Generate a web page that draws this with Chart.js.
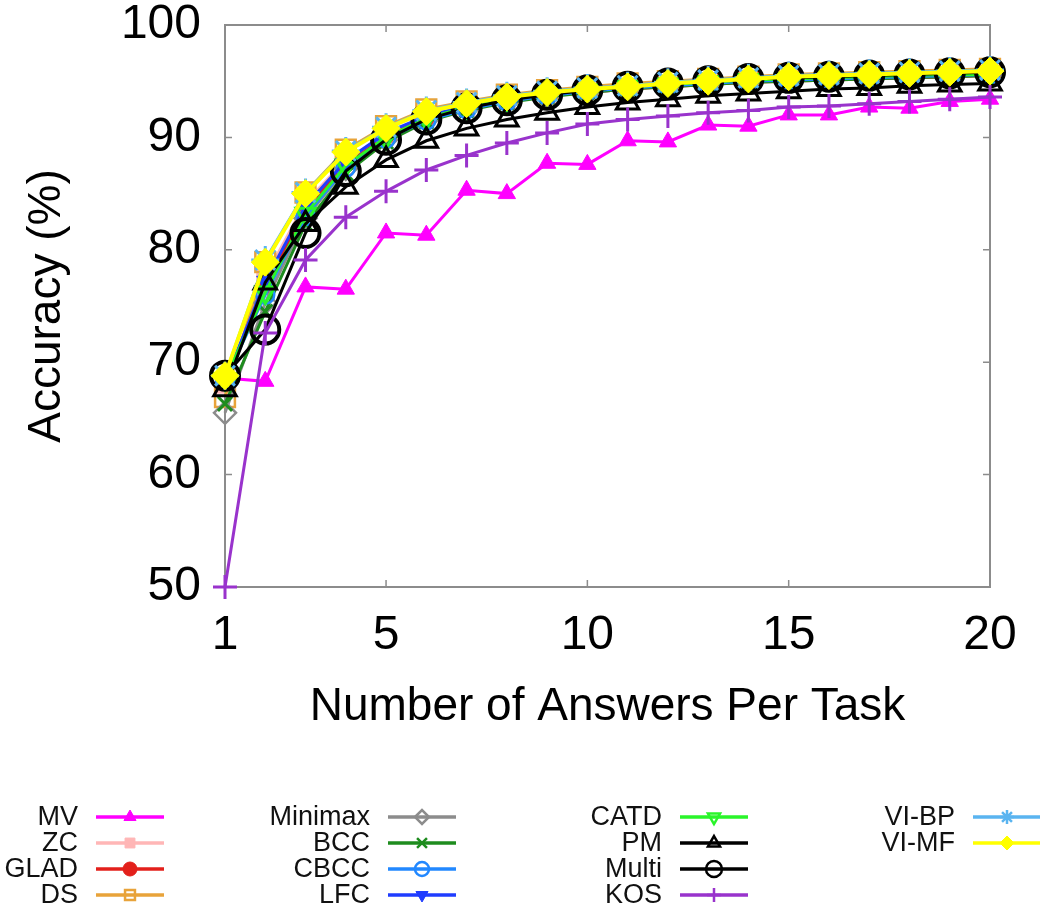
<!DOCTYPE html>
<html>
<head>
<meta charset="utf-8">
<script src="https://cdn.jsdelivr.net/npm/chart.js@4.4.1/dist/chart.umd.min.js"></script>
<style>
  body { margin: 0; background: #fff; }
  #wrap { width: 1040px; height: 908px; }
</style>
</head>
<body>
<div id="wrap"><canvas id="acc-chart"></canvas></div>
<script>
// answers per task (x) and tick values
const answers = [1, 2, 3, 4, 5, 6, 7, 8, 9, 10, 11, 12, 13, 14, 15, 16, 17, 18, 19, 20];
const xTicks = [1, 5, 10, 15, 20];
const yTicks = [50, 60, 70, 80, 90, 100];

const methods = ['MV', 'ZC', 'GLAD', 'DS', 'Minimax', 'BCC', 'CBCC', 'LFC',
                 'CATD', 'PM', 'Multi', 'KOS', 'VI-BP', 'VI-MF'];

// accuracy (%)
const mv      = [68.6, 68.3, 76.7, 76.5, 81.5, 81.3, 85.3, 85.0, 87.7, 87.6, 89.7, 89.6, 91.1, 91.0, 92.0, 92.0, 92.7, 92.6, 93.2, 93.4];
const zc      = [68.0, 77.6, 84.2, 88.0, 90.3, 91.8, 92.7, 93.3, 93.7, 94.1, 94.4, 94.6, 94.8, 95.0, 95.1, 95.2, 95.3, 95.4, 95.5, 95.6];
const glad    = [68.2, 76.8, 83.6, 87.6, 90.1, 91.7, 92.6, 93.2, 93.7, 94.0, 94.3, 94.5, 94.7, 94.9, 95.0, 95.1, 95.2, 95.3, 95.4, 95.5];
const ds      = [66.9, 78.9, 85.1, 88.9, 91.0, 92.5, 93.2, 93.8, 94.2, 94.5, 94.8, 95.0, 95.2, 95.4, 95.6, 95.7, 95.8, 95.9, 96.0, 96.1];
const minimax = [65.5, 75.3, 82.8, 87.2, 89.8, 91.5, 92.5, 93.2, 93.7, 94.0, 94.3, 94.6, 94.8, 95.0, 95.1, 95.2, 95.3, 95.4, 95.5, 95.6];
const bcc     = [66.3, 74.5, 82.3, 86.8, 89.6, 91.4, 92.4, 93.1, 93.6, 94.0, 94.3, 94.5, 94.7, 94.9, 95.0, 95.1, 95.2, 95.3, 95.4, 95.5];
const cbcc    = [68.4, 76.0, 83.0, 87.3, 89.9, 91.5, 92.5, 93.2, 93.7, 94.1, 94.4, 94.6, 94.8, 95.0, 95.1, 95.2, 95.3, 95.4, 95.5, 95.6];
const lfc     = [68.3, 77.2, 83.9, 87.9, 90.4, 91.9, 92.8, 93.4, 93.9, 94.2, 94.5, 94.7, 94.9, 95.1, 95.2, 95.3, 95.4, 95.5, 95.6, 95.7];
const catd    = [68.5, 76.2, 83.2, 87.5, 90.0, 91.7, 92.7, 93.4, 93.9, 94.2, 94.5, 94.7, 94.9, 95.1, 95.2, 95.3, 95.4, 95.5, 95.6, 95.6];
const pm      = [67.6, 77.1, 82.3, 85.6, 88.0, 89.7, 90.8, 91.6, 92.2, 92.7, 93.1, 93.4, 93.7, 93.9, 94.1, 94.3, 94.4, 94.6, 94.7, 94.8];
const multi   = [68.8, 72.9, 81.5, 87.0, 89.8, 91.6, 92.6, 93.3, 93.8, 94.2, 94.5, 94.8, 95.0, 95.2, 95.3, 95.4, 95.5, 95.6, 95.7, 95.8];
const kos     = [50.0, 72.6, 79.1, 82.9, 85.2, 87.1, 88.4, 89.5, 90.4, 91.2, 91.6, 91.9, 92.2, 92.4, 92.7, 92.8, 93.0, 93.2, 93.4, 93.6];
const viBp    = [68.8, 79.1, 85.1, 88.8, 90.9, 92.4, 93.1, 93.7, 94.1, 94.4, 94.6, 94.9, 95.1, 95.3, 95.5, 95.6, 95.7, 95.8, 95.9, 96.0];
const viMf    = [68.8, 78.9, 85.0, 88.7, 90.8, 92.3, 93.0, 93.6, 94.0, 94.3, 94.5, 94.8, 95.0, 95.2, 95.4, 95.5, 95.6, 95.7, 95.8, 95.9];

const series = [mv, zc, glad, ds, minimax, bcc, cbcc, lfc, catd, pm, multi, kos, viBp, viMf];

// look of each method: line colour, marker, marker size
const looks = [
  { color: '#ff00ff', shape: 'triangle', rot: 0,   r: 10, fill: '#ff00ff',     bw: 1 },
  { color: '#ffb6b6', shape: 'rect',     rot: 0,   r: 12, fill: '#ffb6b6',     bw: 1 },
  { color: '#e3201b', shape: 'circle',   rot: 0,   r: 8,  fill: '#e3201b',     bw: 1 },
  { color: '#e8a33a', shape: 'rect',     rot: 0,   r: 14, fill: 'transparent', bw: 2.5 },
  { color: '#8c8c8c', shape: 'rectRot',  rot: 0,   r: 11, fill: 'transparent', bw: 2.5 },
  { color: '#1e8c1e', shape: 'crossRot', rot: 0,   r: 10, fill: 'transparent', bw: 3 },
  { color: '#2288ff', shape: 'circle',   rot: 0,   r: 9,  fill: 'transparent', bw: 2.5 },
  { color: '#1f3cff', shape: 'triangle', rot: 180, r: 10, fill: '#1f3cff',     bw: 1 },
  { color: '#2af52a', shape: 'triangle', rot: 180, r: 11, fill: 'transparent', bw: 3 },
  { color: '#000000', shape: 'triangle', rot: 0,   r: 13, fill: 'transparent', bw: 3 },
  { color: '#000000', shape: 'circle',   rot: 0,   r: 14, fill: 'transparent', bw: 4 },
  { color: '#9933cc', shape: 'cross',    rot: 0,   r: 12, fill: 'transparent', bw: 3 },
  { color: '#5ab4f0', shape: 'star',     rot: 0,   r: 14, fill: 'transparent', bw: 3 },
  { color: '#ffff00', shape: 'rectRot',  rot: 0,   r: 14, fill: '#ffff00',     bw: 1 }
];

const FONT = '"Liberation Sans", Arial, Helvetica, sans-serif';

const datasets = methods.map(function (name, i) {
  const lk = looks[i];
  return {
    label: name,
    data: answers.map((a, j) => ({ x: a, y: series[i][j] })),
    borderColor: lk.color,
    borderWidth: name === 'VI-MF' ? 4 : 3,
    pointStyle: lk.shape,
    pointRotation: lk.rot,
    pointRadius: lk.r,
    pointBackgroundColor: lk.fill,
    pointBorderColor: lk.color,
    pointBorderWidth: lk.bw,
    tension: 0,
    clip: false,
    order: methods.length - 1 - i   // later methods painted on top
  };
});

// box round the plot with inward tick marks on all four sides
const framePlugin = {
  id: 'frame',
  beforeDatasetsDraw(chart) {
    const { ctx, chartArea: a, scales } = chart;
    ctx.save();
    ctx.strokeStyle = '#8c8c8c';
    ctx.lineWidth = 2;
    ctx.strokeRect(a.left, a.top, a.right - a.left, a.bottom - a.top);
    ctx.lineWidth = 1.5;
    ctx.beginPath();
    xTicks.forEach(function (v) {
      const px = scales.x.getPixelForValue(v);
      ctx.moveTo(px, a.bottom); ctx.lineTo(px, a.bottom - 7);
      ctx.moveTo(px, a.top); ctx.lineTo(px, a.top + 7);
    });
    yTicks.forEach(function (v) {
      const py = scales.y.getPixelForValue(v);
      ctx.moveTo(a.left, py); ctx.lineTo(a.left + 7, py);
      ctx.moveTo(a.right, py); ctx.lineTo(a.right - 7, py);
    });
    ctx.stroke();
    ctx.restore();
  }
};

// gnuplot-like key below the plot: 4 columns, label then line sample
const keyPlugin = {
  id: 'bottomKey',
  afterDraw(chart) {
    const ctx = chart.ctx;
    const colRight = [78, 370, 662, 955];
    const rowY = [817, 843, 869, 895];
    ctx.save();
    ctx.font = '27px ' + FONT;
    ctx.textAlign = 'right';
    ctx.textBaseline = 'middle';
    chart.data.datasets.forEach(function (d, i) {
      const xr = colRight[Math.floor(i / 4)];
      const y = rowY[i % 4];
      ctx.fillStyle = '#111';
      ctx.fillText(d.label, xr, y + 1);
      const x0 = xr + 18, x1 = xr + 86;
      ctx.strokeStyle = d.borderColor;
      ctx.lineWidth = 3.5;
      ctx.beginPath();
      ctx.moveTo(x0, y);
      ctx.lineTo(x1, y);
      ctx.stroke();
      const lk = looks[i];
      ctx.fillStyle = lk.fill;
      ctx.strokeStyle = lk.color;
      ctx.lineWidth = Math.min(lk.bw, 2.5);
      Chart.helpers.drawPoint(ctx, {
        pointStyle: lk.shape,
        rotation: lk.rot,
        radius: lk.shape === 'circle' && lk.bw > 3 ? 8 : 7,
        borderWidth: Math.min(lk.bw, 2.5)
      }, (x0 + x1) / 2, y);
    });
    ctx.restore();
  }
};

new Chart(document.getElementById('acc-chart'), {
  type: 'line',
  data: { datasets: datasets },
  plugins: [framePlugin, keyPlugin],
  options: {
    responsive: true,
    maintainAspectRatio: false,
    animation: false,
    layout: { padding: { left: 0, right: 50, top: 25, bottom: 161 } },
    plugins: { legend: { display: false }, tooltip: { enabled: false } },
    scales: {
      x: {
        type: 'linear',
        min: 1,
        max: 20,
        grid: { display: false, drawTicks: false },
        border: { display: false },
        afterBuildTicks: function (scale) { scale.ticks = xTicks.map(v => ({ value: v })); },
        afterFit: function (scale) { scale.height = 160; scale.paddingLeft = 0; scale.paddingRight = 0; },
        ticks: { color: '#000', padding: 20, maxRotation: 0, font: { family: FONT, size: 48 } },
        title: {
          display: true,
          text: 'Number of Answers Per Task',
          color: '#000',
          padding: { top: 0, bottom: 12 },
          font: { family: FONT, size: 46 }
        }
      },
      y: {
        min: 50,
        max: 100,
        grid: { display: false, drawTicks: false },
        border: { display: false },
        afterBuildTicks: function (scale) { scale.ticks = yTicks.map(v => ({ value: v })); },
        afterFit: function (scale) { scale.width = 225; scale.paddingTop = 0; scale.paddingBottom = 0; },
        ticks: { color: '#000', padding: 24, font: { family: FONT, size: 48 } },
        title: {
          display: true,
          text: 'Accuracy (%)',
          color: '#000',
          padding: { top: 20, bottom: 0 },
          font: { family: FONT, size: 46 }
        }
      }
    }
  }
});
</script>
</body>
</html>
